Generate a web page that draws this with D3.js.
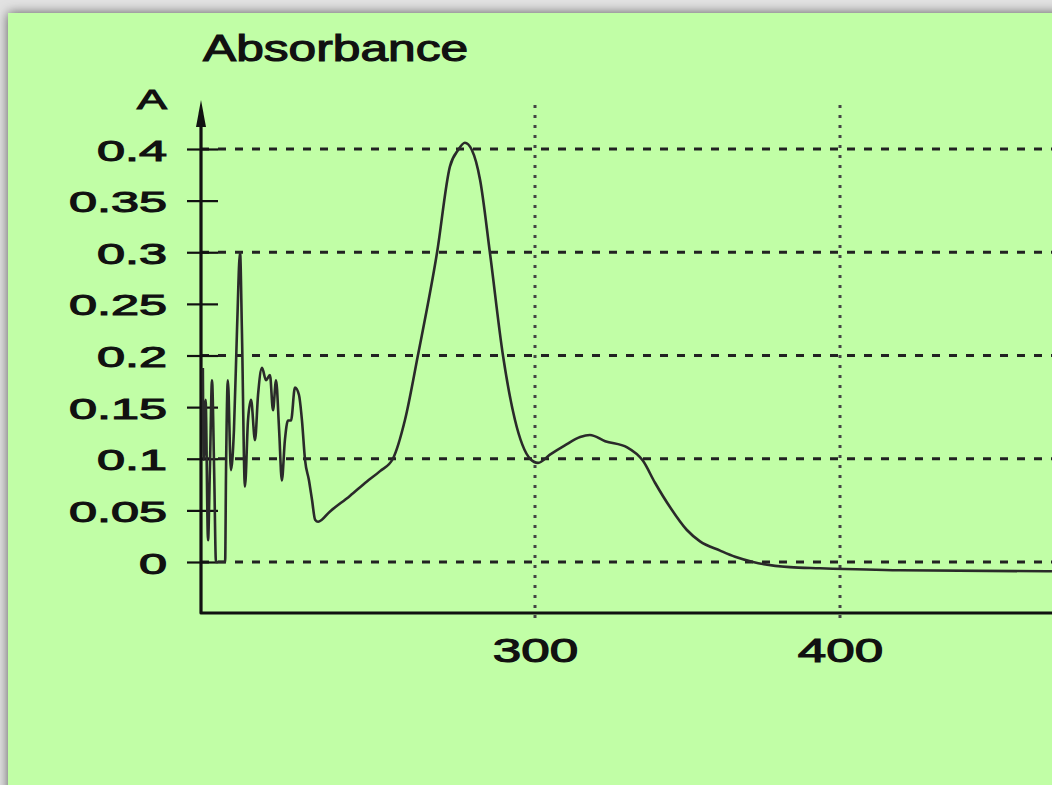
<!DOCTYPE html>
<html>
<head>
<meta charset="utf-8">
<script src="https://cdn.jsdelivr.net/npm/d3@7"></script>
<style>
  html, body { margin: 0; padding: 0; background: #e2e2e2; }
  svg { display: block; }
  text { font-family: "Liberation Sans", Arial, sans-serif; fill: #111; stroke: #111; stroke-width: 1.1px; }
</style>
</head>
<body>
<div id="chart"></div>
<script>
// wavelength (nm) and absorbance
var wavelength = [191.1, 191.4, 192.0, 192.8, 193.4, 194.1, 194.8, 195.4, 198.4, 198.7,
  199.3, 200.3, 201.3, 202.3, 203.3, 203.9, 204.9, 205.9, 206.9, 208.2,
  209.2, 210.5, 211.8, 213.1, 214.1, 215.1, 216.1, 217.0, 218.0, 219.0,
  220.0, 221.3, 222.6, 223.6, 224.6, 225.9, 226.9, 227.9, 228.9,
  232.8, 239.3, 244.9, 249.2, 253.4, 257.4, 261.6, 267.9, 272.1, 274.8, 277.0,
  279.3, 282.0, 285.2, 289.5, 293.4, 298.4, 301.0, 304.9, 309.8, 314.8,
  318.0, 323.0, 330.2, 335.4, 339.3, 344.3, 349.8, 354.1, 360.7, 365.6, 371.5, 383.6,
  393.4, 419.7, 469.5];
var absorbance = [0.188, 0.099, 0.157, 0.021, 0.089, 0.176, 0.089, 0.0, 0.0, 0.089,
  0.176, 0.089, 0.128, 0.225, 0.300, 0.225, 0.073, 0.137, 0.157, 0.118,
  0.162, 0.188, 0.176, 0.181, 0.147, 0.176, 0.128, 0.079, 0.118, 0.137,
  0.137, 0.169, 0.162, 0.137, 0.099, 0.079, 0.060, 0.041, 0.039,
  0.049, 0.064, 0.078, 0.088, 0.100, 0.138, 0.200, 0.300, 0.383, 0.399, 0.406,
  0.399, 0.370, 0.300, 0.200, 0.138, 0.100, 0.096, 0.104, 0.113, 0.121,
  0.123, 0.117, 0.111, 0.098, 0.077, 0.053, 0.031, 0.020, 0.011, 0.005, 0.000, -0.005,
  -0.006, -0.008, -0.009];

var yTicks = [0, 0.05, 0.1, 0.15, 0.2, 0.25, 0.3, 0.35, 0.4];
var yGrid = [0, 0.1, 0.2, 0.3, 0.4];
var xTicks = [300, 400];

var W = 1052, H = 785;

var svg = d3.select("#chart").append("svg")
  .attr("width", W)
  .attr("height", H);

// soft shadow round the green panel
var defs = svg.append("defs");
var f = defs.append("filter").attr("id", "shadow")
  .attr("x", "-5%").attr("y", "-5%").attr("width", "110%").attr("height", "110%");
f.append("feDropShadow")
  .attr("dx", 0).attr("dy", 0)
  .attr("stdDeviation", 6)
  .attr("flood-color", "#000")
  .attr("flood-opacity", 0.6);

svg.append("rect")
  .attr("x", 8).attr("y", 13)
  .attr("width", W + 30).attr("height", H + 30)
  .attr("fill", "#c1fea6")
  .attr("filter", "url(#shadow)");

var x = d3.scaleLinear().domain([300, 400]).range([535, 840]);
var y = d3.scaleLinear().domain([0, 0.4]).range([562, 149]);

var axisX = 201, baseY = 613;

// horizontal dashed grid
svg.append("g").selectAll("line")
  .data(yGrid)
  .enter().append("line")
  .attr("x1", axisX)
  .attr("x2", W)
  .attr("y1", function (d) { return y(d); })
  .attr("y2", function (d) { return y(d); })
  .attr("stroke", "#222")
  .attr("stroke-width", 2.8)
  .attr("stroke-dasharray", "8,9");

// vertical dotted grid
svg.append("g").selectAll("line")
  .data(xTicks)
  .enter().append("line")
  .attr("x1", function (d) { return x(d); })
  .attr("x2", function (d) { return x(d); })
  .attr("y1", 105)
  .attr("y2", 622)
  .attr("stroke", "#444")
  .attr("stroke-width", 3)
  .attr("stroke-dasharray", "3,7");

// y axis: ticks cross the axis line, labels sit on the left
var yAxis = d3.axisLeft(y)
  .tickValues(yTicks)
  .tickSize(31)
  .tickPadding(0)
  .tickFormat(function (d) { return d; });

var gy = svg.append("g")
  .attr("transform", "translate(218,0)")
  .call(yAxis);
gy.select(".domain").remove();
gy.selectAll(".tick line").attr("stroke", "#111").attr("stroke-width", 2.2);
gy.selectAll(".tick text").remove();
gy.selectAll(".tick").append("text")
  .attr("transform", "translate(-51,11) scale(1.68,1)")
  .attr("text-anchor", "end")
  .style("font-size", "30px")
  .text(function (d) { return d; });

// x axis labels only
var xAxis = d3.axisBottom(x).tickValues(xTicks).tickSize(0).tickPadding(0);
var gx = svg.append("g").attr("transform", "translate(0," + baseY + ")").call(xAxis);
gx.select(".domain").remove();
gx.selectAll(".tick text").remove();
gx.selectAll(".tick").append("text")
  .attr("transform", "translate(0,49) scale(1.55,1)")
  .attr("text-anchor", "middle")
  .style("font-size", "33px")
  .text(function (d) { return d; });

// axis frame
svg.append("path")
  .attr("d", "M" + axisX + ",112 L" + axisX + "," + baseY + " L" + W + "," + baseY)
  .attr("fill", "none")
  .attr("stroke", "#111")
  .attr("stroke-width", 3.2)
  .attr("stroke-linejoin", "round");

// arrow head
svg.append("path")
  .attr("d", "M" + axisX + ",100 L" + (axisX - 5) + ",127 L" + (axisX + 5) + ",127 Z")
  .attr("fill", "#111");

// spectrum
var pts = wavelength.map(function (d, i) { return [d, absorbance[i]]; });
var line = d3.line()
  .x(function (d) { return x(d[0]); })
  .y(function (d) { return y(d[1]); })
  .curve(d3.curveMonotoneX);

svg.append("path")
  .datum(pts)
  .attr("d", line)
  .attr("fill", "none")
  .attr("stroke", "#2a2a2a")
  .attr("stroke-width", 2.6)
  .attr("stroke-linejoin", "round");

// titles
svg.append("text")
  .attr("transform", "translate(203,61) scale(1.38,1)")
  .style("font-size", "36px")
  .text("Absorbance");

svg.append("text")
  .attr("transform", "translate(167,109) scale(1.6,1)")
  .attr("text-anchor", "end")
  .style("font-size", "28px")
  .text("A");
</script>
</body>
</html>
